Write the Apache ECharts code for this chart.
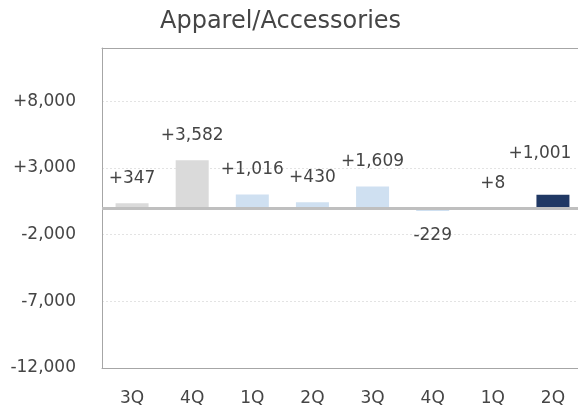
<!DOCTYPE html>
<html>
<head>
<meta charset="utf-8">
<script src="https://cdn.jsdelivr.net/npm/echarts@6/dist/echarts.min.js"></script>
<style>
  html, body { margin: 0; padding: 0; background: #ffffff; }
  #chart { width: 578px; height: 411px; }
</style>
</head>
<body>
<div id="chart"></div>
<script>
// Quarterly change, Apparel/Accessories
const quarters = ['3Q', '4Q', '1Q', '2Q', '3Q', '4Q', '1Q', '2Q'];
const changes = [347, 3582, 1016, 430, 1609, -229, 8, 1001];
const yTicks = [-12000, -7000, -2000, 3000, 8000];

// bar fill per quarter: earlier year grey, following quarters light blue, latest navy
const barColors = ['#dadada', '#dadada', '#cfe0f1', '#cfe0f1', '#cfe0f1', '#cfe0f1', '#cfe0f1', '#203864'];
// the last label is nudged so it stays inside the page
const labelOffsets = { 7: [-13, -17] };

const FONT = '"DejaVu Sans", sans-serif';
const TEXT = '#454545';
const FRAME = '#a6a6a6';

function signed(v) {
  const s = Math.abs(v).toLocaleString('en-US');
  return (v > 0 ? '+' : v < 0 ? '-' : '') + s;
}

const barData = changes.map((v, i) => {
  const item = {
    value: v,
    itemStyle: { color: barColors[i] },
    label: { position: v < 0 ? 'bottom' : 'top' }
  };
  if (labelOffsets[i]) item.label.offset = labelOffsets[i];
  return item;
});

const chart = echarts.init(document.getElementById('chart'), null, { renderer: 'canvas' });
chart.setOption({
  animation: false,
  backgroundColor: '#ffffff',
  title: {
    text: 'Apparel/Accessories',
    left: 155,
    top: 5,
    textStyle: { fontFamily: FONT, fontSize: 24, fontWeight: 'normal', color: TEXT }
  },
  grid: {
    // the plot area runs slightly past the right edge of the page
    left: 102, right: -5, top: 48, bottom: 43,
    outerBoundsMode: 'none',
    containLabel: false
  },
  xAxis: [{
    type: 'category',
    data: quarters,
    axisLine: { show: true, onZero: false, lineStyle: { color: FRAME } },
    axisTick: { show: false },
    axisLabel: { fontFamily: FONT, fontSize: 17, color: TEXT, margin: 22 }
  }, {
    // top edge of the plot frame
    type: 'category',
    position: 'top',
    data: quarters,
    axisLine: { show: true, onZero: false, lineStyle: { color: FRAME } },
    axisTick: { show: false },
    axisLabel: { show: false }
  }],
  yAxis: {
    type: 'value',
    min: -12000,
    max: 12000,
    interval: 5000,
    axisLine: { show: true, lineStyle: { color: FRAME } },
    axisTick: { show: false },
    axisLabel: {
      fontFamily: FONT, fontSize: 17, color: TEXT, margin: 26,
      showMaxLabel: false,
      formatter: v => (yTicks.indexOf(v) >= 0 ? signed(v) : '')
    },
    splitLine: { show: true, lineStyle: { color: '#e3e3e3', type: [2, 2] } }
  },
  series: [{
    type: 'bar',
    xAxisIndex: 0,
    data: barData,
    barWidth: 33,
    label: {
      show: true,
      distance: 16,
      fontFamily: FONT, fontSize: 17, color: TEXT,
      formatter: p => signed(p.value)
    },
    markLine: {
      silent: true,
      symbol: 'none',
      label: { show: false },
      lineStyle: { color: '#bfbfbf', width: 3, type: 'solid' },
      data: [{ yAxis: 0 }]
    }
  }]
});
</script>
</body>
</html>
